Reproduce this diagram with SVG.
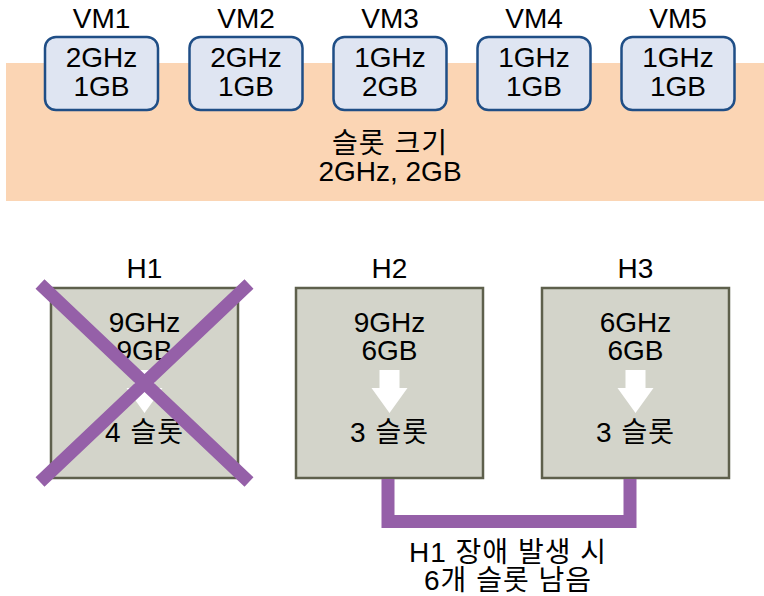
<svg xmlns="http://www.w3.org/2000/svg" width="764" height="596" viewBox="0 0 764 596">
<style>
text{font-family:"Liberation Sans","Noto Sans CJK KR",Arial,sans-serif;font-size:28px;fill:#000;text-anchor:middle}
.ko{letter-spacing:1px}
.vm{fill:#dfe5f2;stroke:#1f4e86;stroke-width:2.5}
.host{fill:#d3d4ca;stroke:#5e604c;stroke-width:2.5}
.arrow{fill:#fff}
.purple{stroke:#9560a8;fill:none;stroke-width:13}
</style>
<defs>
<path id="arr" class="arrow" d="M-10,0 H10 V18 H18 L0,43 L-18,18 H-10 Z"/>
</defs>
<rect x="6" y="63" width="758" height="138" fill="#fbd5b4"/>
<g id="vm1"><text x="101.5" y="28">VM1</text><rect class="vm" x="45" y="37" width="113" height="73" rx="11"/><text x="101.5" y="67">2GHz</text><text x="101.5" y="96">1GB</text></g>
<g id="vm2"><text x="246" y="28">VM2</text><rect class="vm" x="189.5" y="37" width="113" height="73" rx="11"/><text x="246" y="67">2GHz</text><text x="246" y="96">1GB</text></g>
<g id="vm3"><text x="390" y="28">VM3</text><rect class="vm" x="333.5" y="37" width="113" height="73" rx="11"/><text x="390" y="67">1GHz</text><text x="390" y="96">2GB</text></g>
<g id="vm4"><text x="534" y="28">VM4</text><rect class="vm" x="477.5" y="37" width="113" height="73" rx="11"/><text x="534" y="67">1GHz</text><text x="534" y="96">1GB</text></g>
<g id="vm5"><text x="678" y="28">VM5</text><rect class="vm" x="621.5" y="37" width="113" height="73" rx="11"/><text x="678" y="67">1GHz</text><text x="678" y="96">1GB</text></g>
<g id="slot"><text class="ko" x="390" y="153">슬롯 크기</text><text x="390" y="181">2GHz, 2GB</text></g>
<g id="h1"><text x="144.5" y="278">H1</text><rect class="host" x="51" y="288" width="187" height="190"/><text x="144.5" y="332">9GHz</text><text x="144.5" y="360">9GB</text><use href="#arr" x="144.5" y="370"/><text class="ko" x="144.5" y="442">4 슬롯</text>
<path class="purple" d="M40,284 L249,482 M249,284 L40,482"/></g>
<g id="h2"><text x="389.5" y="278">H2</text><rect class="host" x="296" y="288" width="187" height="190"/><text x="389.5" y="332">9GHz</text><text x="389.5" y="360">6GB</text><use href="#arr" x="389.5" y="370"/><text class="ko" x="389.5" y="442">3 슬롯</text></g>
<g id="h3"><text x="635.5" y="278">H3</text><rect class="host" x="542" y="288" width="187" height="190"/><text x="635.5" y="332">6GHz</text><text x="635.5" y="360">6GB</text><use href="#arr" x="635.5" y="370"/><text class="ko" x="635.5" y="442">3 슬롯</text></g>
<g id="connectors"><path class="purple" d="M388,479 V521.5 H630 V479" stroke-linejoin="miter"/></g>
<g id="note"><text class="ko" x="508" y="562">H1 장애 발생 시</text><text class="ko" x="508" y="590">6개 슬롯 남음</text></g>
</svg>
